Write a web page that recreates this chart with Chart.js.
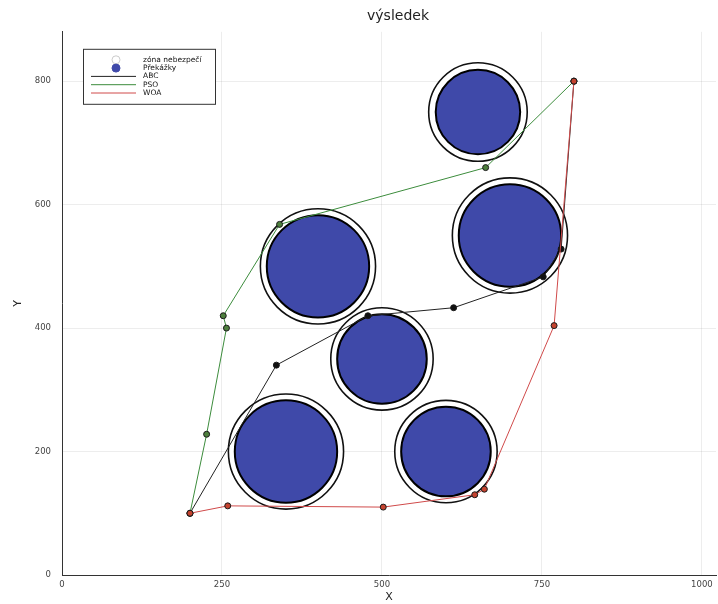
<!DOCTYPE html>
<html>
<head>
<meta charset="utf-8">
<script src="https://cdn.jsdelivr.net/npm/chart.js"></script>
<style>
  html, body { margin: 0; padding: 0; background: #fff; }
  #wrap { width: 718px; height: 604px; }
</style>
</head>
<body>
<div id="wrap"><canvas id="myChart"></canvas></div>
<script>
// obstacles and their danger zones (centre + radius, in data units)
const obstacleX = [350, 600, 500, 400, 700, 650];
const obstacleY = [200, 200, 350, 500, 550, 750];
const obstacleR = [80, 70, 70, 80, 80, 66];
const dangerR = [90, 80, 80, 90, 90, 77];

// paths found by each algorithm
const abcX = [200, 335, 478, 612, 752, 780, 800];
const abcY = [100, 340, 420, 433, 483, 528, 800];
const psoX = [200, 226, 257, 252, 340, 662, 800];
const psoY = [100, 228, 400, 420, 568, 660, 800];
const woaX = [200, 259, 502, 645, 660, 769, 800];
const woaY = [100, 112, 110, 130, 139, 404, 800];

const xTicks = [0, 250, 500, 750, 1000];
const yTicks = [0, 200, 400, 600, 800];

const FONT = "'DejaVu Sans', sans-serif";

function pts(xs, ys) {
    return xs.map((x, i) => ({ x: x, y: ys[i] }));
}

// pixels per data unit, taken from the x scale
function unitPx(chart) {
    const s = chart.scales && chart.scales.x;
    if (!s || !s.width) return 0;
    const d = Math.abs(s.getPixelForValue(100) - s.getPixelForValue(0)) / 100;
    return isFinite(d) ? d : 0;
}

function pathSet(label, xs, ys, line, fill) {
    return {
        label: label,
        data: pts(xs, ys),
        showLine: true,
        borderColor: line,
        borderWidth: 1,
        pointRadius: 3,
        pointBackgroundColor: fill,
        pointBorderColor: '#1a1a1a',
        pointBorderWidth: 1
    };
}

// legend box drawn inside the plot, like the original
const legendBox = {
    id: 'legendBox',
    afterLayout(chart) {
        // centre the title a bit to the right, as in the original
        chart.titleBlock.left += 9;
        chart.titleBlock.right += 9;
    },
    afterDraw(chart) {
        const ctx = chart.ctx;
        const a = chart.chartArea;
        const x0 = a.left + 21, y0 = a.top + 17;
        ctx.save();
        ctx.fillStyle = '#fff';
        ctx.fillRect(x0, y0, 132, 55);
        ctx.strokeStyle = '#333';
        ctx.lineWidth = 1;
        ctx.strokeRect(x0 + 0.5, y0 + 0.5, 132, 55);

        const items = [
            { label: 'zóna nebezpečí', kind: 'dot', fill: '#fff', stroke: '#ccc' },
            { label: 'Překážky', kind: 'dot', fill: '#3f49a9', stroke: '#3f49a9' },
            { label: 'ABC', kind: 'line', stroke: '#222' },
            { label: 'PSO', kind: 'line', stroke: '#3c8c3c' },
            { label: 'WOA', kind: 'line', stroke: '#d04a4a' }
        ];
        ctx.font = '7.5px ' + FONT;
        ctx.textBaseline = 'middle';
        items.forEach((it, i) => {
            const y = y0 + 11 + i * 8.3;
            if (it.kind === 'dot') {
                ctx.beginPath();
                ctx.arc(x0 + 33, y, 4, 0, Math.PI * 2);
                ctx.fillStyle = it.fill;
                ctx.fill();
                ctx.strokeStyle = it.stroke;
                ctx.lineWidth = 1;
                ctx.stroke();
            } else {
                ctx.beginPath();
                ctx.moveTo(x0 + 8, y);
                ctx.lineTo(x0 + 53, y);
                ctx.strokeStyle = it.stroke;
                ctx.lineWidth = 1;
                ctx.stroke();
            }
            ctx.fillStyle = '#111';
            ctx.fillText(it.label, x0 + 60, y);
        });
        ctx.restore();
    }
};

const config = {
    type: 'scatter',
    data: {
        datasets: [
            pathSet('WOA', woaX, woaY, '#d04a4a', '#c4432f'),
            pathSet('PSO', psoX, psoY, '#3c8c3c', '#4d7f3d'),
            pathSet('ABC', abcX, abcY, '#222', '#111'),
            {
                label: 'Překážky',
                data: pts(obstacleX, obstacleY),
                pointRadius: ctx => unitPx(ctx.chart) * obstacleR[ctx.dataIndex],
                pointBackgroundColor: '#3f49a9',
                pointBorderColor: '#000',
                pointBorderWidth: 2
            },
            {
                label: 'zóna nebezpečí',
                data: pts(obstacleX, obstacleY),
                pointRadius: ctx => unitPx(ctx.chart) * dangerR[ctx.dataIndex],
                pointBackgroundColor: '#fff',
                pointBorderColor: '#111',
                pointBorderWidth: 1.6
            }
        ]
    },
    options: {
        responsive: true,
        maintainAspectRatio: false,
        animation: false,
        events: [],
        layout: { autoPadding: false, padding: { top: 1, right: 2, bottom: 0, left: 0 } },
        plugins: {
            legend: { display: false },
            tooltip: { enabled: false },
            title: {
                display: true,
                fullSize: false,
                text: 'výsledek',
                color: '#222',
                font: { family: FONT, size: 14, weight: 'normal' },
                padding: { top: 7, bottom: 7 }
            }
        },
        scales: {
            x: {
                type: 'linear',
                min: 0,
                max: 1022,
                afterBuildTicks: s => { s.ticks = xTicks.map(v => ({ value: v })); },
                afterFit: s => { s.height = 29; },
                border: { color: '#333', width: 1 },
                grid: { color: 'rgba(0,0,0,0.07)', drawTicks: false },
                ticks: { color: '#444', padding: 5, font: { family: FONT, size: 8.5 },
                         callback: v => String(v) },
                title: { display: true, text: 'X', color: '#222', padding: { top: 1, bottom: 0 },
                         font: { family: FONT, size: 11 } }
            },
            y: {
                type: 'linear',
                min: 0,
                max: 880,
                afterBuildTicks: s => { s.ticks = yTicks.map(v => ({ value: v })); },
                afterFit: s => { s.width = 62; },
                border: { color: '#333', width: 1 },
                grid: { color: 'rgba(0,0,0,0.07)', drawTicks: false },
                ticks: { color: '#444', padding: 11, font: { family: FONT, size: 8.5 },
                         callback: v => String(v) },
                title: { display: true, text: 'Y', color: '#222', padding: { top: 12, bottom: 0 },
                         font: { family: FONT, size: 11 } }
            }
        }
    },
    plugins: [legendBox]
};

const myChart = new Chart(document.getElementById('myChart'), config);
</script>
</body>
</html>
